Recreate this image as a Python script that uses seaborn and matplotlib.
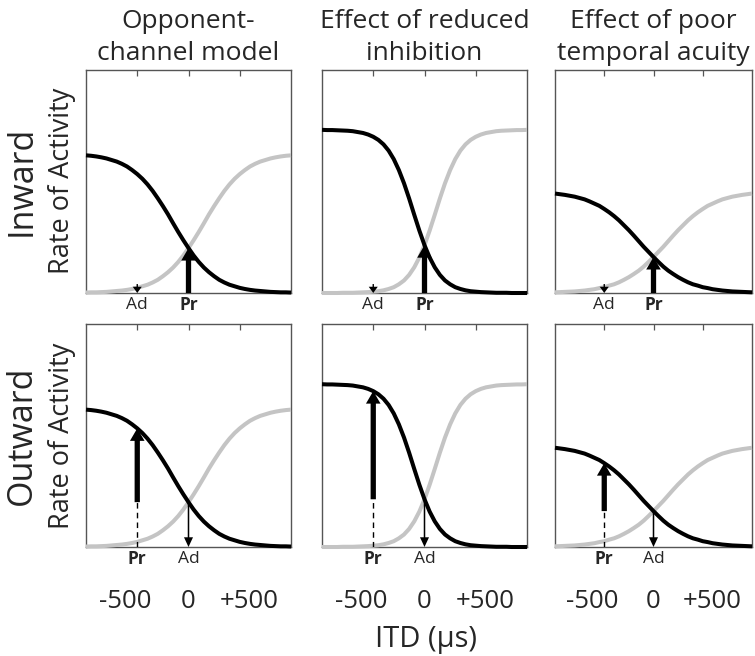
import numpy as np
import pandas as pd
import matplotlib.pyplot as plt
from matplotlib.transforms import offset_copy
import seaborn as sns

# ITD sample points (us) and the response of the left-favouring channel
itd = list(range(-1000, 1001, 50))
opponent = [0.616, 0.614, 0.611, 0.607, 0.602, 0.595, 0.588, 0.578, 0.566, 0.550,
            0.532, 0.511, 0.486, 0.457, 0.424, 0.389, 0.352, 0.312, 0.273, 0.236,
            0.201, 0.168, 0.139, 0.114, 0.093, 0.075, 0.059, 0.047, 0.037, 0.030,
            0.023, 0.018, 0.014, 0.011, 0.009, 0.007, 0.005, 0.004, 0.003, 0.003, 0.002]
reduced_inhibition = [0.730, 0.729, 0.729, 0.728, 0.727, 0.726, 0.724, 0.720, 0.716, 0.709,
                      0.699, 0.685, 0.665, 0.637, 0.599, 0.550, 0.491, 0.423, 0.350, 0.279,
                      0.214, 0.159, 0.115, 0.081, 0.056, 0.039, 0.026, 0.018, 0.012, 0.008,
                      0.006, 0.004, 0.003, 0.002, 0.001, 0.001, 0.001, 0.000, 0.000, 0.000, 0.000]
poor_acuity = [0.445, 0.442, 0.439, 0.435, 0.431, 0.425, 0.419, 0.410, 0.400, 0.390,
               0.376, 0.361, 0.344, 0.325, 0.303, 0.281, 0.257, 0.232, 0.207, 0.184,
               0.161, 0.139, 0.118, 0.100, 0.085, 0.071, 0.059, 0.048, 0.039, 0.033,
               0.026, 0.022, 0.017, 0.014, 0.011, 0.009, 0.007, 0.006, 0.005, 0.004, 0.003]

col_titles = ["Opponent-\nchannel model", "Effect of reduced\ninhibition",
              "Effect of poor\ntemporal acuity"]
row_titles = ["Inward", "Outward"]
tick_vals = [-500, 0, 500]
tick_labels = ["-500", "0", "+500"]
# ITD where the adapter (Ad) and probe (Pr) sit, per row
ad_itd = [-500, 0]
pr_itd = [0, -500]

curves = [opponent, reduced_inhibition, poor_acuity]

sns.set_theme(style="white")
plt.rcParams["font.family"] = ["Open Sans", "DejaVu Sans"]

W, H = 755, 656
fig = plt.figure(figsize=(W / 100, H / 100), dpi=100)

col_left = [86, 322, 555]
col_width = [205, 205, 197]
row_top = [69.5, 324]
row_height = [223.5, 223]

GRAY = "#c4c4c4"
SPINE = "#555555"

for r in range(2):
    for c in range(3):
        ax = fig.add_axes([col_left[c] / W, (H - row_top[r] - row_height[r]) / H,
                           col_width[c] / W, row_height[r] / H])
        left = curves[c]
        right = left[::-1]  # opposite channel is the mirror image
        df = pd.DataFrame({"itd": itd, "left": left, "right": right})
        sns.lineplot(data=df, x="itd", y="right", color=GRAY, lw=2.9, ax=ax)
        sns.lineplot(data=df, x="itd", y="left", color="black", lw=2.9, ax=ax)
        for ln in ax.lines:
            ln.set_clip_on(False)
            ln.set_zorder(3)
            ln.set_solid_capstyle("butt")
            ln.set_solid_joinstyle("round")

        ax.set_xlim(-1000, 1000)
        ax.set_ylim(0, 1)
        ax.set_xlabel("")
        ax.set_ylabel("")
        ax.set_yticks([])
        ax.set_xticks(tick_vals)
        ax.tick_params(axis="x", top=True, bottom=False, direction="in", length=4.5,
                       width=0.9, color=SPINE, labelbottom=False, labeltop=False)
        for sp in ax.spines.values():
            sp.set_color(SPINE)
            sp.set_linewidth(1.0)

        cross = left[itd.index(0)]
        lab = offset_copy(ax.get_xaxis_transform(), fig=fig, y=-8.5, units="points")
        if r == 0:
            # small adapter arrow, thick probe arrow up to the crossing
            ax.annotate("", xy=(ad_itd[r], 0), xytext=(ad_itd[r], 0.04),
                        arrowprops=dict(arrowstyle="simple,head_length=4.5,head_width=6.5,tail_width=1",
                                        mutation_scale=1, color="black", lw=0,
                                        shrinkA=0, shrinkB=0), zorder=5)
            ax.annotate("", xy=(pr_itd[r], cross), xytext=(pr_itd[r], 0),
                        arrowprops=dict(arrowstyle="simple,head_length=9,head_width=10.5,tail_width=3.8",
                                        mutation_scale=1, color="black", lw=0,
                                        shrinkA=0, shrinkB=0), zorder=5)
        else:
            tip = left[itd.index(pr_itd[r])]
            ax.plot([pr_itd[r], pr_itd[r]], [0, cross], color="black", lw=1,
                    ls=(0, (4, 3)), zorder=4)
            ax.annotate("", xy=(pr_itd[r], tip), xytext=(pr_itd[r], cross),
                        arrowprops=dict(arrowstyle="simple,head_length=9,head_width=10.5,tail_width=3.8",
                                        mutation_scale=1, color="black", lw=0,
                                        shrinkA=0, shrinkB=0), zorder=5)
            ax.annotate("", xy=(ad_itd[r], 0), xytext=(ad_itd[r], cross),
                        arrowprops=dict(arrowstyle="simple,head_length=7,head_width=6.5,tail_width=1.1",
                                        mutation_scale=1, color="black", lw=0,
                                        shrinkA=0, shrinkB=0), zorder=5)
        ax.text(ad_itd[r], 0, "Ad", transform=lab, ha="center", va="center", fontsize=12.5)
        ax.text(pr_itd[r], 0, "Pr", transform=lab, ha="center", va="center", fontsize=12.5,
                fontweight="bold")

        if r == 0:
            ttl = offset_copy(ax.transAxes, fig=fig, y=3, units="dots")
            ax.text(0.5, 1, col_titles[c], transform=ttl, ha="center", va="bottom",
                    fontsize=19, linespacing=1.38)
        if r == 1:
            for v, t, dx in zip(tick_vals, tick_labels, [-8.5, 0, 7]):
                tl = offset_copy(ax.get_xaxis_transform(), fig=fig, x=dx, y=-39, units="points")
                ax.text(v, 0, t, transform=tl, ha="center", va="center", fontsize=18.5)

for r, name in enumerate(row_titles):
    yc = 1 - (row_top[r] + row_height[r] / 2) / H
    fig.text(22 / W, yc, name, rotation=90, ha="center", va="center", fontsize=24.5)
    fig.text(62 / W, yc, "Rate of Activity", rotation=90, ha="center", va="center", fontsize=19.5)

fig.text(426 / W, 1 - 640 / H, "ITD (μs)", ha="center", va="center", fontsize=21)

fig.savefig("out.png", dpi=100)
